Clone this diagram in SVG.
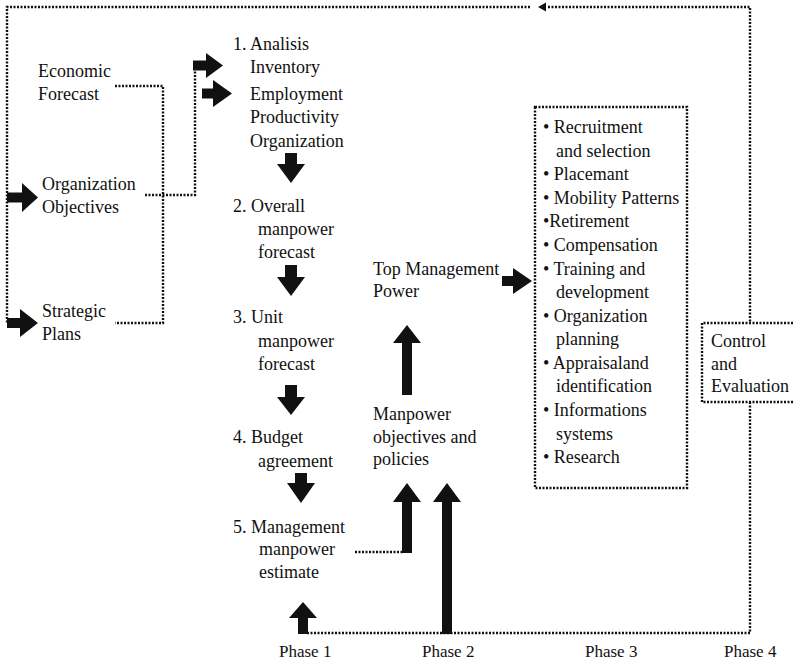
<svg xmlns="http://www.w3.org/2000/svg" width="793" height="661" viewBox="0 0 793 661">
<style>
text{font-family:"Liberation Serif","Times New Roman",serif;font-size:18px;fill:#111}
.ph{font-size:17px}
.dot{fill:none;stroke:#111;stroke-width:2.4;stroke-dasharray:2 1.5}
.blk{fill:#111;stroke:none}
</style>
<rect width="793" height="661" fill="#fff"/>
<g id="connectors">
<path class="dot" d="M530,7 H7 V323"/>
<path class="dot" d="M548,7 H750 V323"/>
<polygon class="blk" points="538,7 546,2.5 546,11.5"/>
<path class="dot" d="M750,402 V633 H307"/>
<path class="dot" d="M115,86 H163 V323 H115"/>
<path class="dot" d="M145,195 H195 V62"/>
<path class="dot" d="M355,552 H402"/>
<polygon class="blk" points="193,60.5 206,60.5 206,53 223,65.5 206,78 206,70.5 193,70.5"/>
<polygon class="blk" points="202,88.5 213,88.5 213,80 232,93.5 213,107 213,98.5 202,98.5"/>
<polygon class="blk" points="7,192.5 22,192.5 22,183 38,197.5 22,212 22,202.5 7,202.5"/>
<polygon class="blk" points="7,318 20,318 20,309 38,323 20,337 20,328 7,328"/>
<polygon class="blk" points="285,153 297,153 297,164 305,164 291,183 277,164 285,164"/>
<polygon class="blk" points="285,265 297,265 297,277 305,277 291,296 277,277 285,277"/>
<polygon class="blk" points="285,385 297,385 297,397 305,397 291,415 277,397 285,397"/>
<polygon class="blk" points="295,473 307,473 307,483 315,483 301,503 287,483 295,483"/>
<polygon class="blk" points="502,276 513,276 513,268 532,281 513,294 513,286 502,286"/>
<polygon class="blk" points="402,395 402,343 393,343 407,325 421,343 412,343 412,395"/>
<polygon class="blk" points="402,553 402,502 393,502 407,483 421,502 412,502 412,553"/>
<polygon class="blk" points="442,634 442,502 433,502 447,483 461,502 452,502 452,634"/>
<polygon class="blk" points="298,634 298,618 289,618 303,602 317,618 308,618 308,634"/>
</g>
<g id="economic"><text x="38" y="77">Economic</text><text x="38" y="100">Forecast</text></g>
<g id="orgobj"><text x="42" y="190">Organization</text><text x="42" y="213">Objectives</text></g>
<g id="strategic"><text x="42" y="317">Strategic</text><text x="42" y="340">Plans</text></g>
<g id="step1"><text x="233" y="50">1. Analisis</text><text x="250" y="73">Inventory</text><text x="250" y="100">Employment</text><text x="250" y="123">Productivity</text><text x="250" y="147">Organization</text></g>
<g id="step2"><text x="233" y="212">2. Overall</text><text x="258" y="235">manpower</text><text x="258" y="258">forecast</text></g>
<g id="step3"><text x="233" y="323">3. Unit</text><text x="258" y="347">manpower</text><text x="258" y="370">forecast</text></g>
<g id="step4"><text x="233" y="443">4. Budget</text><text x="258" y="467">agreement</text></g>
<g id="step5"><text x="233" y="533">5. Management</text><text x="259" y="555">manpower</text><text x="259" y="578">estimate</text></g>
<g id="topmgmt"><text x="373" y="275">Top Management</text><text x="373" y="297">Power</text></g>
<g id="manpowerobj"><text x="373" y="420">Manpower</text><text x="373" y="443">objectives and</text><text x="373" y="465">policies</text></g>
<g id="activities">
<rect class="dot" x="535" y="107" width="152" height="381"/>
<text x="543" y="133">• Recruitment</text>
<text x="556" y="157">and selection</text>
<text x="543" y="180">• Placemant</text>
<text x="543" y="204">• Mobility Patterns</text>
<text x="543" y="227">•Retirement</text>
<text x="543" y="251">• Compensation</text>
<text x="543" y="275">• Training and</text>
<text x="556" y="298">development</text>
<text x="543" y="322">• Organization</text>
<text x="556" y="345">planning</text>
<text x="543" y="369">• Appraisaland</text>
<text x="556" y="392">identification</text>
<text x="543" y="416">• Informations</text>
<text x="556" y="440">systems</text>
<text x="543" y="463">• Research</text>
</g>
<g id="control">
<path class="dot" d="M800,323 H702 V402 H800"/>
<text x="711" y="347">Control</text><text x="711" y="370">and</text><text x="711" y="392">Evaluation</text>
</g>
<g id="phases">
<text class="ph" x="279" y="657">Phase 1</text>
<text class="ph" x="422" y="657">Phase 2</text>
<text class="ph" x="585" y="657">Phase 3</text>
<text class="ph" x="724" y="657">Phase 4</text>
</g>
</svg>
